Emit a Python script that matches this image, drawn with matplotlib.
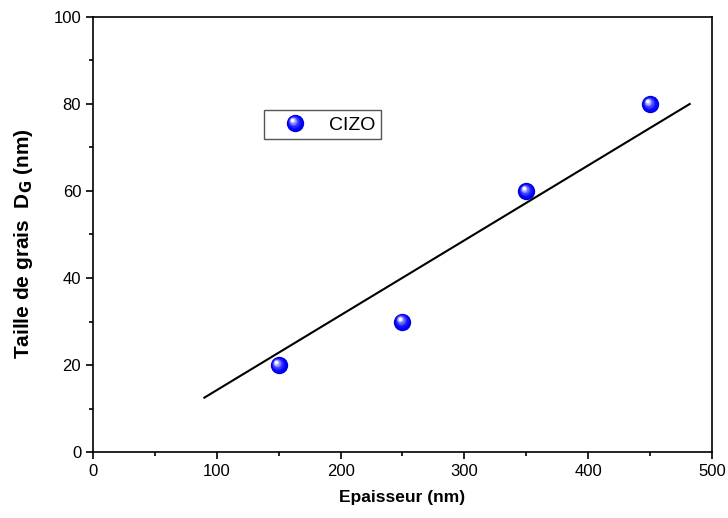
import numpy as np
import matplotlib
matplotlib.use("Agg")
import matplotlib.pyplot as plt
import matplotlib.transforms as mtransforms
from matplotlib.lines import Line2D
from matplotlib.legend_handler import HandlerBase

plt.rcParams['font.family'] = ['Liberation Sans', 'DejaVu Sans']

# data
epaisseur = [150, 250, 350, 450]
taille = [20, 30, 60, 80]
line_x = [90, 482]
line_y = [12.5, 80]

fig = plt.figure(figsize=(7.28, 5.18), dpi=100)
ax = fig.add_axes([0.1277, 0.1274, 0.8503, 0.8398])

ax.plot(line_x, line_y, color='black', lw=1.5, zorder=2)

SIZE = 12.5
N = 12


def shade(f):
    base = np.array([0.0, 0.0, 1.0])
    white = np.array([1.0, 1.0, 1.0])
    return base * (1 - f**2) + white * f**2


def sphere(ax, x, y, size=SIZE, n=N):
    # shaded sphere made of stacked circles, highlight shifted to upper-left
    ax.scatter(x, y, s=size**2, color=(0.0, 0.0, 0.8), zorder=3, lw=0)
    for i in range(n):
        f = i / (n - 1)
        d = size * (0.9 - 0.72 * f)
        sh = size * 0.16 * f / 72
        off = mtransforms.ScaledTranslation(-sh, sh, fig.dpi_scale_trans)
        ax.scatter(x, y, s=d**2, color=shade(f), zorder=3 + 0.01 * i, lw=0,
                   transform=ax.transData + off)


sphere(ax, epaisseur, taille)

ax.set_xlim(0, 500)
ax.set_ylim(0, 100)
ax.set_xticks(range(0, 501, 100))
ax.set_yticks(range(0, 101, 20))
ax.set_xticks(range(50, 500, 100), minor=True)
ax.set_yticks(range(10, 100, 20), minor=True)
ax.tick_params(which='major', direction='out', length=5, width=1.2, labelsize=12)
ax.tick_params(which='minor', direction='out', length=3, width=1.2)
for s in ax.spines.values():
    s.set_linewidth(1.2)

ax.set_xlabel('Epaisseur (nm)', fontsize=12.5, fontweight='bold', labelpad=8)
ax.set_ylabel(r'Taille de grais  D$_{\mathbf{G}}$ (nm)', fontsize=15,
              fontweight='bold')
ax.yaxis.set_label_coords(-0.093, 0.48)


class SphereHandler(HandlerBase):
    def create_artists(self, legend, orig, xd, yd, w, h, fs, trans):
        arts = []
        cx, cy = w / 2 - xd, h / 2 - yd
        arts.append(Line2D([cx], [cy], marker='o', ls='', ms=SIZE,
                           markerfacecolor=(0, 0, 0.8), markeredgewidth=0,
                           transform=trans))
        for i in range(N):
            f = i / (N - 1)
            d = SIZE * (0.9 - 0.72 * f)
            dx = SIZE * 0.16 * f
            arts.append(Line2D([cx - dx], [cy + dx], marker='o', ls='', ms=d,
                               markerfacecolor=shade(f), markeredgewidth=0,
                               transform=trans))
        return arts


proxy = Line2D([], [])
leg = ax.legend([proxy], ['CIZO'], handler_map={Line2D: SphereHandler()},
                loc='upper left', bbox_to_anchor=(0.276, 0.786), fontsize=14,
                fancybox=False, framealpha=1, edgecolor='#555555',
                borderpad=0.3, handlelength=2.6, handletextpad=0.45,
                borderaxespad=0)
leg.get_frame().set_linewidth(1.0)

fig.savefig('out.png', dpi=100)
